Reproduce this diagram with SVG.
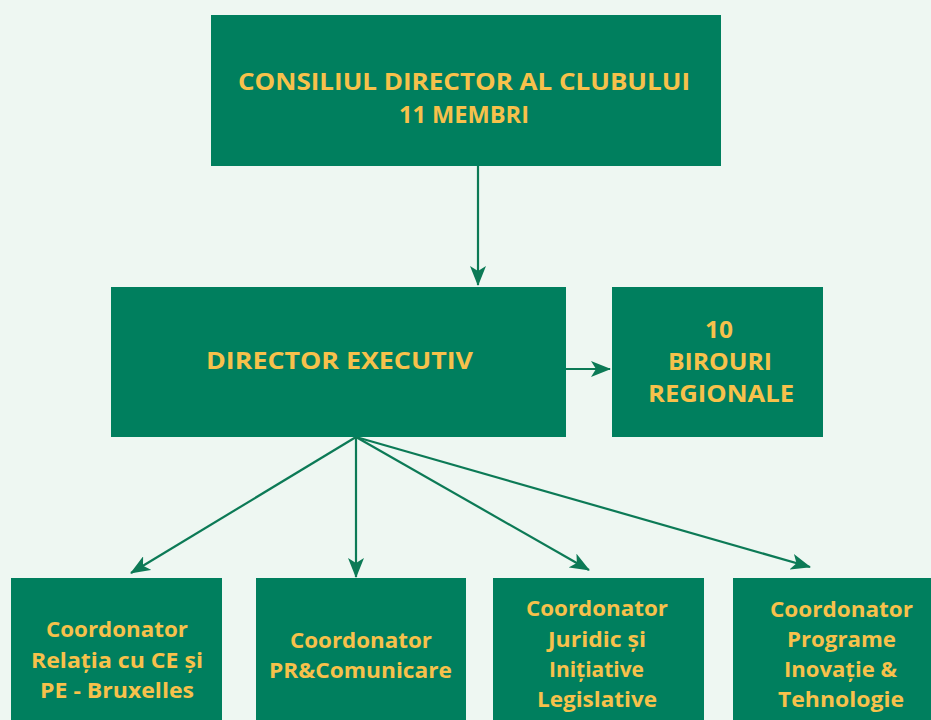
<svg xmlns="http://www.w3.org/2000/svg" width="931" height="720" viewBox="0 0 931 720">
<style>
.box{fill:#007f5e}
.t{fill:#f7c14b;font-family:"Open Sans","Liberation Sans",sans-serif;font-weight:700;text-anchor:middle}
.big{font-size:24px}
.sm{font-size:21px}
.c{stroke:#0c7a56;stroke-width:2.2;fill:none}
</style>
<defs>
<marker id="ah" viewBox="0 0 20 16" refX="19" refY="8" markerWidth="20" markerHeight="16" markerUnits="userSpaceOnUse" orient="auto">
<path d="M0,0 L20,8 L0,16 L5,8 Z" fill="#0c7a56"/>
</marker>
</defs>
<rect width="931" height="720" fill="#eef7f2"/>
<g id="connectors">
<line class="c" x1="478" y1="166" x2="478" y2="285" marker-end="url(#ah)"/>
<line class="c" x1="566" y1="369" x2="610" y2="369" marker-end="url(#ah)"/>
<line class="c" x1="356" y1="437" x2="131" y2="573" marker-end="url(#ah)"/>
<line class="c" x1="356" y1="437" x2="356" y2="577" marker-end="url(#ah)"/>
<line class="c" x1="356" y1="437" x2="589" y2="570" marker-end="url(#ah)"/>
<line class="c" x1="356" y1="437" x2="810" y2="567" marker-end="url(#ah)"/>
</g>
<g id="consiliu">
<rect class="box" x="211" y="15" width="510" height="151"/>
<text class="t big" x="464" y="90" textLength="452" lengthAdjust="spacingAndGlyphs">CONSILIUL DIRECTOR AL CLUBULUI</text>
<text class="t big" x="464" y="123" textLength="130" lengthAdjust="spacingAndGlyphs">11 MEMBRI</text>
</g>
<g id="director">
<rect class="box" x="111" y="287" width="455" height="150"/>
<text class="t big" x="339.5" y="369" textLength="267" lengthAdjust="spacingAndGlyphs">DIRECTOR EXECUTIV</text>
</g>
<g id="birouri">
<rect class="box" x="612" y="287" width="211" height="150"/>
<text class="t big" x="719" y="338" textLength="28" lengthAdjust="spacingAndGlyphs">10</text>
<text class="t big" x="720" y="370" textLength="104" lengthAdjust="spacingAndGlyphs">BIROURI</text>
<text class="t big" x="721" y="402" textLength="146" lengthAdjust="spacingAndGlyphs">REGIONALE</text>
</g>
<g id="coord1">
<rect class="box" x="11" y="578" width="211" height="150"/>
<text class="t sm" x="117" y="637" textLength="142" lengthAdjust="spacingAndGlyphs">Coordonator</text>
<text class="t sm" x="117" y="668" textLength="172" lengthAdjust="spacingAndGlyphs">Relația cu CE și</text>
<text class="t sm" x="117" y="698" textLength="154" lengthAdjust="spacingAndGlyphs">PE - Bruxelles</text>
</g>
<g id="coord2">
<rect class="box" x="256" y="578" width="210" height="150"/>
<text class="t sm" x="361" y="648" textLength="142" lengthAdjust="spacingAndGlyphs">Coordonator</text>
<text class="t sm" x="360.5" y="678" textLength="183" lengthAdjust="spacingAndGlyphs">PR&amp;Comunicare</text>
</g>
<g id="coord3">
<rect class="box" x="493" y="578" width="211" height="150"/>
<text class="t sm" x="597" y="616" textLength="142" lengthAdjust="spacingAndGlyphs">Coordonator</text>
<text class="t sm" x="597" y="647" textLength="98" lengthAdjust="spacingAndGlyphs">Juridic și</text>
<text class="t sm" x="596.5" y="677" textLength="95" lengthAdjust="spacingAndGlyphs">Inițiative</text>
<text class="t sm" x="597" y="707" textLength="120" lengthAdjust="spacingAndGlyphs">Legislative</text>
</g>
<g id="coord4">
<rect class="box" x="733" y="578" width="211" height="150"/>
<text class="t sm" x="841.5" y="617" textLength="143" lengthAdjust="spacingAndGlyphs">Coordonator</text>
<text class="t sm" x="841.5" y="647" textLength="109" lengthAdjust="spacingAndGlyphs">Programe</text>
<text class="t sm" x="840.5" y="677" textLength="113" lengthAdjust="spacingAndGlyphs">Inovație &amp;</text>
<text class="t sm" x="841" y="707" textLength="126" lengthAdjust="spacingAndGlyphs">Tehnologie</text>
</g>
</svg>
